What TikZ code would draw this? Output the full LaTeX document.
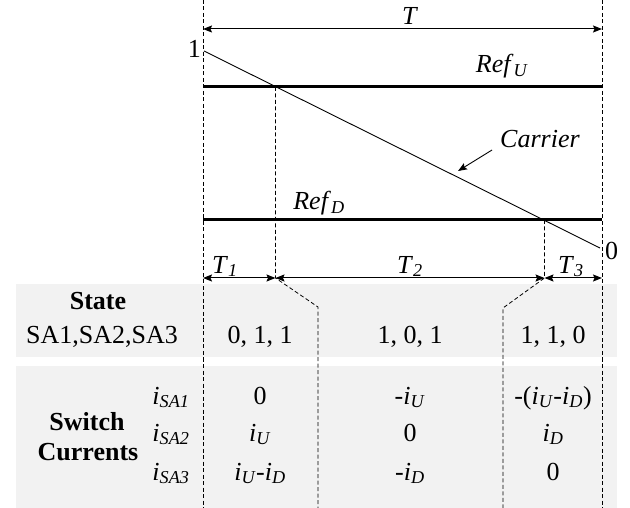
\documentclass[tikz,border=0pt]{standalone}
\usepackage{fontspec}
\setmainfont{Liberation Serif}
\usetikzlibrary{arrows.meta, positioning}
\newcommand{\cur}[2]{\textit{#1}\textsubscript{\textit{#2}}}

\begin{document}
\begin{tikzpicture}[x=1pt,y=-1pt,font=\fontsize{26}{30}\selectfont,
    >={Stealth[length=9pt,width=7pt,inset=1.5pt]}]
    \tikzstyle{band}=[fill=black!5, draw=none]
    \tikzstyle{guide}=[dash pattern=on 4pt off 2.5pt, line width=0.8pt]
    \tikzstyle{ref}=[line width=3pt]
    \tikzstyle{span}=[<->, line width=1pt]
    \tikzstyle{lbl}=[inner sep=0pt, anchor=base]

    \useasboundingbox (0,0) rectangle (630,508);

    % grey backgrounds of the table
    \fill[band] (16,284) rectangle (617,357);
    \fill[band] (16,366) rectangle (617,508);

    % corner points of the period
    \coordinate (L-top) at (203,0);
    \coordinate (L-bot) at (203,508);
    \coordinate (R-top) at (602,0);
    \coordinate (R-bot) at (602,508);

    % reference levels and carrier
    \coordinate (RU-a) at (203,87);
    \coordinate (RU-b) at (602,87);
    \coordinate (RD-a) at (203,220);
    \coordinate (RD-b) at (602,220);
    \coordinate (C-a) at (204,51);
    \coordinate (C-b) at (600,248);
    \coordinate (X-1) at (275.5,87);
    \coordinate (X-2) at (544.5,220);

    % switching instants on the time axis
    \coordinate (S-1) at (275.5,278);
    \coordinate (S-2) at (544.5,278);
    \coordinate (K-1) at (318,307);
    \coordinate (K-2) at (503,308);
    \coordinate (B-1) at (318,508);
    \coordinate (B-2) at (503,508);

    % Draw the period borders
    \draw[guide] (L-top) -- (L-bot);
    \draw[guide] (R-top) -- (R-bot);

    % Draw the references and the carrier
    \draw[ref] (RU-a) -- (RU-b);
    \draw[ref] (RD-a) -- (RD-b);
    \draw[line width=0.9pt] (C-a) -- (C-b);

    % drop the crossings down into the table
    \draw[guide] (X-1) -- (S-1) -- (K-1) -- (B-1);
    \draw[guide] (X-2) -- (S-2) -- (K-2) -- (B-2);

    % time spans
    \draw[span] (203,29) coordinate (T-a) -- (602,29) coordinate (T-b);
    \draw[span] (203,278) coordinate (T1-a) -- (S-1);
    \draw[span] (S-1) -- (S-2);
    \draw[span] (S-2) -- (602,278) coordinate (T3-b);

    \node[lbl] (T-lbl) at (410,25) {\textit{T}};
    \node[lbl] (T1-lbl) at (225,273) {\cur{T}{1}};
    \node[lbl] (T2-lbl) at (410,273) {\cur{T}{2}};
    \node[lbl] (T3-lbl) at (571,273) {\cur{T}{3}};

    % Annotate the waveforms
    \node[lbl, anchor=base east] (one) at (201,58) {1};
    \node[lbl, anchor=base west] (zero) at (605,260) {0};
    \node[lbl] (refU-lbl) at (502,73) {\cur{Ref}{U}};
    \node[lbl] (refD-lbl) at (319,210) {\cur{Ref}{D}};
    \node[lbl] (carrier-lbl) at (540,148) {\textit{Carrier}};
    \coordinate (carrier-pt) at (458,171);
    \draw[->, line width=0.9pt] ([xshift=-8pt,yshift=-2pt]carrier-lbl.base west) -- (carrier-pt);

    % State row
    \node[lbl] (state) at (98,309) {\textbf{State}};
    \node[lbl] (sw) at (102,343) {SA1,SA2,SA3};
    \foreach \name / \x / \txt in {1/260/{0, 1, 1}, 2/410/{1, 0, 1}, 3/553/{1, 1, 0}}
        \node[lbl] (St-\name) at (\x,343) {\txt};

    % Switch currents
    \node[lbl] (cur-1) at (87,430) {\textbf{Switch}};
    \node[lbl] (cur-2) at (88,460) {\textbf{Currents}};
    \foreach \name / \y / \a / \b / \c in {1/404/{0}/{-\cur{i}{U}}/{-(\cur{i}{U}-\cur{i}{D})},
                                          2/441/{\cur{i}{U}}/{0}/{\cur{i}{D}},
                                          3/480/{\cur{i}{U}-\cur{i}{D}}/{-\cur{i}{D}}/{0}}
    {
        \node[lbl] (I-\name) at (171,\y) {\cur{i}{SA\name}};
        \node[lbl] (A-\name) at (260,\y) {\a};
        \node[lbl] (B-\name) at (410,\y) {\b};
        \node[lbl] (C-\name) at (553,\y) {\c};
    }
\end{tikzpicture}
\end{document}
